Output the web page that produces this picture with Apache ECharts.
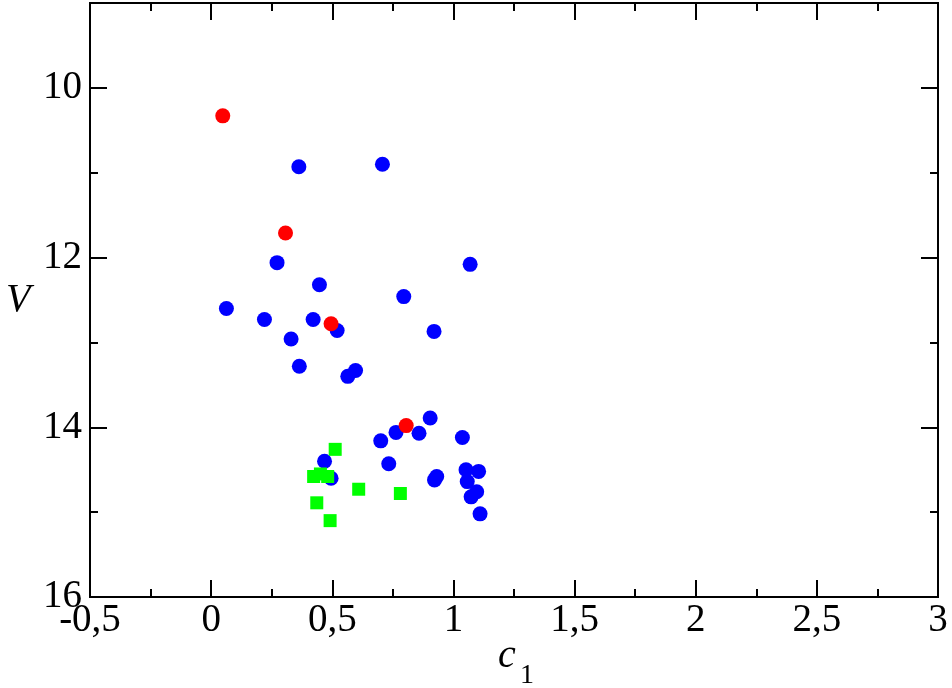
<!DOCTYPE html>
<html>
<head>
<meta charset="utf-8">
<script src="https://cdn.jsdelivr.net/npm/echarts@6/dist/echarts.min.js"></script>
<style>
  html, body { margin: 0; padding: 0; background: #fff; }
  #chart { width: 952px; height: 688px; }
</style>
</head>
<body>
<div id="chart"></div>
<script>
// blue circles
const blueC1 = [0.362, 0.707, 0.272, 1.069, 0.447, 0.795, 0.063, 0.220, 0.421, 0.520, 0.920, 0.330, 0.364, 0.596, 0.564,
  0.904, 0.763, 0.858, 0.700, 1.037, 0.468, 0.733, 0.495, 0.931, 0.922, 1.052, 1.104, 1.057, 1.096, 1.073, 1.110]
const blueV = [10.93, 10.90, 12.06, 12.08, 12.32, 12.46, 12.60, 12.73, 12.73, 12.86, 12.87, 12.96, 13.28, 13.33, 13.40,
  13.89, 14.06, 14.07, 14.16, 14.12, 14.40, 14.43, 14.60, 14.58, 14.62, 14.50, 14.52, 14.64, 14.76, 14.82, 15.02]
// red circles
const redC1 = [0.048, 0.307, 0.495, 0.805]
const redV = [10.33, 11.71, 12.78, 13.98]
// green squares
const greenC1 = [0.512, 0.423, 0.451, 0.481, 0.609, 0.781, 0.436, 0.491]
const greenV = [14.26, 14.58, 14.55, 14.58, 14.73, 14.78, 14.89, 15.10]

const yMajor = [10, 12, 14, 16]
const yMinor = [11, 13, 15]

const font = 'Liberation Serif, Times New Roman, serif'
const zip = (a, b) => a.map((v, i) => [v, b[i]])
const lineStyle = { color: '#000', width: 2 }

const xBase = (pos) => ({
  type: 'value', position: pos, min: -0.5, max: 3, interval: 0.5,
  axisLine: { show: true, onZero: false, lineStyle },
  axisTick: { show: true, inside: true, length: 17, lineStyle },
  minorTick: { show: true, splitNumber: 2, length: 8, lineStyle },
  axisLabel: {
    show: pos === 'bottom', margin: 4, color: '#000', fontFamily: font, fontSize: 39,
    formatter: (v) => String(v).replace('.', ','),
  },
  splitLine: { show: false },
  minorSplitLine: { show: false },
})

const yBase = (pos, ticks, len, labels) => ({
  type: 'value', position: pos, inverse: true, min: 9, max: 16, offset: 0,
  axisLine: { show: true, onZero: false, lineStyle },
  axisTick: { show: true, inside: true, length: len, customValues: ticks, lineStyle },
  axisLabel: {
    show: labels, customValues: ticks, margin: 8, color: '#000', fontFamily: font, fontSize: 39,
  },
  splitLine: { show: false },
})

const option = {
  animation: false,
  grid: { left: 90, right: 14, top: 3, bottom: 91, containLabel: false },
  xAxis: [xBase('bottom'), xBase('top')],
  yAxis: [
    yBase('left', yMajor, 17, true),
    yBase('left', yMinor, 8, false),
    yBase('right', yMajor, 17, false),
    yBase('right', yMinor, 8, false),
  ],
  graphic: [
    { type: 'text', left: 6, top: 280, style: { text: 'V', font: 'italic 40px ' + font, fill: '#000' } },
    { type: 'text', left: 498, top: 636, style: { text: 'c', font: 'italic 40px ' + font, fill: '#000' } },
    { type: 'text', left: 520, top: 662, style: { text: '1', font: '28px ' + font, fill: '#000' } },
  ],
  series: [
    {
      name: 'blue', type: 'scatter', symbol: 'circle', symbolSize: 15,
      itemStyle: { color: '#0000ff', opacity: 1 },
      data: zip(blueC1, blueV),
    },
    {
      name: 'red', type: 'scatter', symbol: 'circle', symbolSize: 15,
      itemStyle: { color: '#ff0000', opacity: 1 },
      data: zip(redC1, redV),
    },
    {
      name: 'green', type: 'scatter', symbol: 'rect', symbolSize: 13,
      itemStyle: { color: '#00ff00', opacity: 1 },
      data: zip(greenC1, greenV),
    },
  ],
}

const myChart = echarts.init(document.getElementById('chart'))
myChart.setOption(option)
</script>
</body>
</html>
